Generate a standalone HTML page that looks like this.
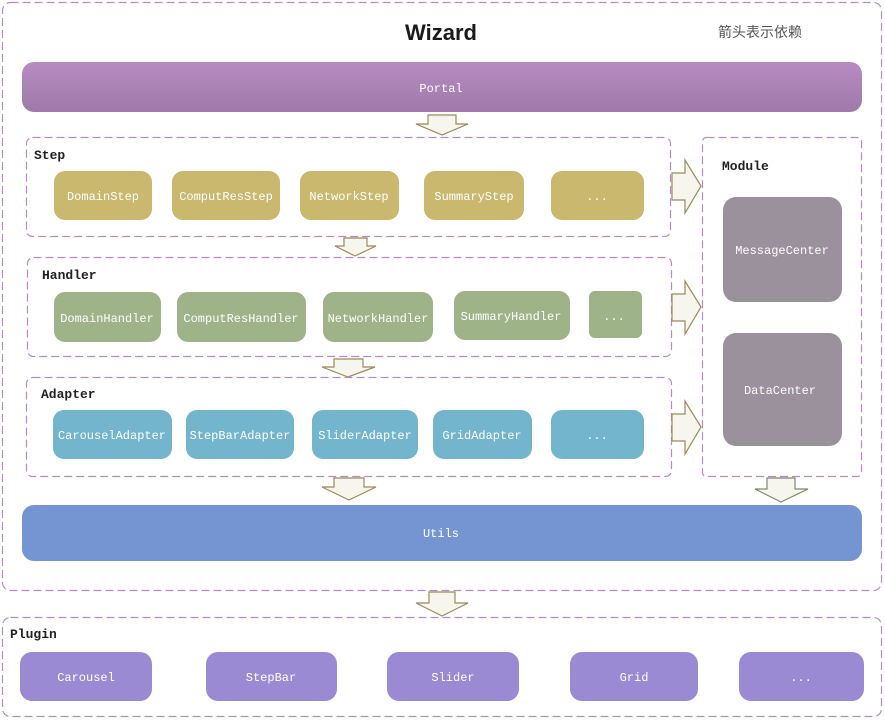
<!DOCTYPE html>
<html><head><meta charset="utf-8"><style>
html,body{margin:0;padding:0;background:#fff}
svg{display:block}
text{font-family:"Liberation Mono","Noto Sans CJK SC",monospace;font-size:12px;fill:#fff}
.lbl{fill:#222;font-weight:bold;font-size:13px}
.box{fill:none;stroke:#b989c9;stroke-dasharray:8 4;stroke-width:1.2}
.arr{fill:#f7f6ee;stroke:#9a8b5a;stroke-width:1.2}
</style></head><body>
<svg width="885" height="720" viewBox="0 0 885 720">
<defs>
<linearGradient id="pg" x1="0" y1="0" x2="0" y2="1"><stop offset="0" stop-color="#b68bc2"/><stop offset="1" stop-color="#a07aaa"/></linearGradient>
</defs>
<rect class="box" x="2.5" y="2.5" width="879" height="588" rx="8"/>
<text x="441" y="40" text-anchor="middle" style="font-family:'Liberation Sans',sans-serif;font-size:22px;font-weight:bold;fill:#1a1a1a">Wizard</text>
<text x="718" y="37" style="font-family:'Liberation Sans','Noto Sans CJK SC',sans-serif;font-size:14px;fill:#555">箭头表示依赖</text>

<rect x="22" y="62" width="840" height="50" rx="12" fill="url(#pg)"/>
<text x="441" y="92" text-anchor="middle">Portal</text>

<polygon class="arr" points="428,115 456,115 456,124 468,124 442,135 416,124 428,124"/>

<rect class="box" x="26.5" y="137.5" width="644" height="99" rx="6"/>
<text class="lbl" x="34" y="159">Step</text>
<g fill="#c9b86e">
<rect x="54" y="171" width="98" height="49" rx="11"/>
<rect x="172" y="171" width="108" height="49" rx="11"/>
<rect x="300" y="171" width="99" height="49" rx="11"/>
<rect x="424" y="171" width="100" height="49" rx="11"/>
<rect x="551" y="171" width="93" height="49" rx="11"/>
</g>
<g text-anchor="middle">
<text x="103" y="200">DomainStep</text>
<text x="226" y="200">ComputResStep</text>
<text x="349" y="200">NetworkStep</text>
<text x="474" y="200">SummaryStep</text>
<text x="597" y="200">...</text>
</g>

<polygon class="arr" points="344,238 367,238 367,246 376,246 355,256 335,246 344,246"/>

<rect class="box" x="27.5" y="257.5" width="644" height="99" rx="6"/>
<text class="lbl" x="42" y="279">Handler</text>
<g fill="#9fb388">
<rect x="54" y="292" width="107" height="50" rx="11"/>
<rect x="177" y="292" width="129" height="50" rx="11"/>
<rect x="323" y="292" width="110" height="50" rx="11"/>
<rect x="454" y="291" width="116" height="49" rx="11"/>
<rect x="589" y="291" width="53" height="47" rx="6"/>
</g>
<g text-anchor="middle">
<text x="107" y="322">DomainHandler</text>
<text x="241" y="322">ComputResHandler</text>
<text x="378" y="322">NetworkHandler</text>
<text x="511" y="320">SummaryHandler</text>
<text x="614" y="320">...</text>
</g>

<polygon class="arr" points="334,359 363,359 363,367 375,367 348,377 322,367 334,367"/>

<rect class="box" x="26.5" y="377.5" width="645" height="99" rx="6"/>
<text class="lbl" x="41" y="398">Adapter</text>
<g fill="#73b5cc">
<rect x="53" y="410" width="119" height="49" rx="11"/>
<rect x="186" y="410" width="108" height="49" rx="11"/>
<rect x="312" y="410" width="106" height="49" rx="11"/>
<rect x="433" y="410" width="99" height="49" rx="11"/>
<rect x="551" y="410" width="93" height="49" rx="11"/>
</g>
<g text-anchor="middle">
<text x="112" y="439">CarouselAdapter</text>
<text x="240" y="439">StepBarAdapter</text>
<text x="365" y="439">SliderAdapter</text>
<text x="482" y="439">GridAdapter</text>
<text x="597" y="439">...</text>
</g>

<polygon class="arr" points="672,173 685,173 685,160 701,186 685,213 685,200 672,200"/>
<polygon class="arr" points="672,294 685,294 685,281 701,307 685,334 685,321 672,321"/>
<polygon class="arr" points="672,414 685,414 685,401 701,427 685,454 685,441 672,441"/>

<rect class="box" x="702.5" y="137.5" width="159" height="339" rx="4"/>
<text class="lbl" x="722" y="170">Module</text>
<rect x="723" y="197" width="119" height="105" rx="13" fill="#9a919d"/>
<rect x="723" y="333" width="119" height="113" rx="13" fill="#9a919d"/>
<text x="782" y="254" text-anchor="middle">MessageCenter</text>
<text x="780" y="394" text-anchor="middle">DataCenter</text>

<polygon class="arr" points="334,478 364,478 364,487 376,487 349,500 322,487 334,487"/>
<polygon class="arr" style="stroke:#7a8a6a" points="767,478 795,478 795,489 808,489 781,502 755,489 767,489"/>

<rect x="22" y="505" width="840" height="56" rx="12" fill="#7594d2"/>
<text x="441" y="537" text-anchor="middle">Utils</text>

<polygon class="arr" points="429,592 455,592 455,603 468,603 442,616 416,603 429,603"/>

<rect class="box" x="2.5" y="617.5" width="879" height="99" rx="8"/>
<text class="lbl" x="10" y="638">Plugin</text>
<g fill="#9a8ad3">
<rect x="20" y="652" width="132" height="49" rx="12"/>
<rect x="206" y="652" width="131" height="49" rx="12"/>
<rect x="387" y="652" width="132" height="49" rx="12"/>
<rect x="570" y="652" width="128" height="49" rx="12"/>
<rect x="739" y="652" width="125" height="49" rx="12"/>
</g>
<g text-anchor="middle">
<text x="86" y="681">Carousel</text>
<text x="271" y="681">StepBar</text>
<text x="453" y="681">Slider</text>
<text x="634" y="681">Grid</text>
<text x="801" y="681">...</text>
</g>
</svg>
</body></html>
